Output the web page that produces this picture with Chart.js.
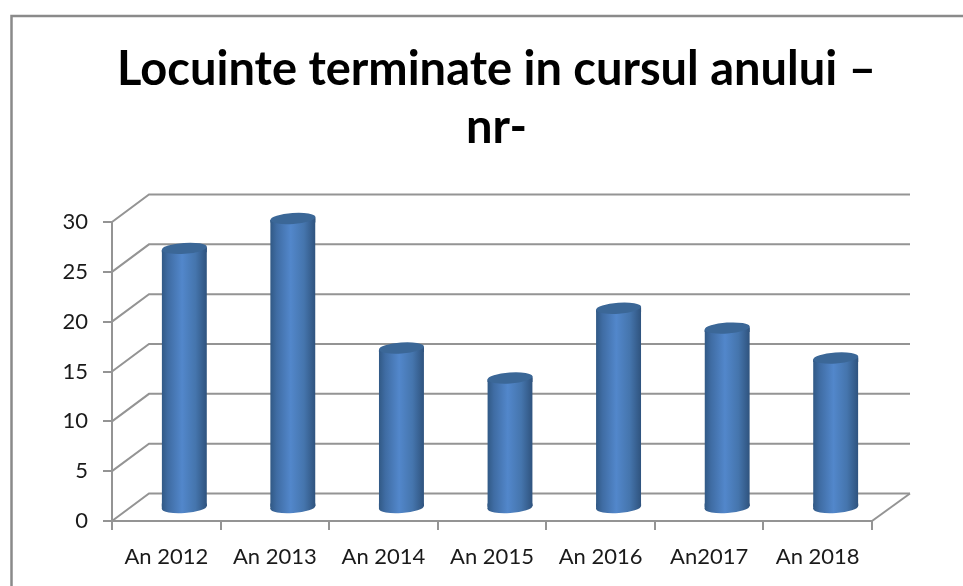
<!DOCTYPE html>
<html>
<head>
<meta charset="utf-8">
<style>
	html, body { margin: 0; background: #fff; }
	canvas { display: block; }
</style>
</head>
<body>
<canvas id="chart" width="963" height="586"></canvas>
<script src="https://cdn.jsdelivr.net/npm/chart.js@4/dist/chart.umd.min.js"></script>
<script>
// ===================== Data =====================
const categories = ['An 2012', 'An 2013', 'An 2014', 'An 2015', 'An 2016', 'An2017', 'An 2018'];
const values = [26, 29, 16, 13, 20, 18, 15];
const titleLines = ['Locuinte terminate in cursul anului –', 'nr-'];

// ===================== Fake 3D look =====================
const gridColor = '#949494';
const wallX = 37; // back wall offset
const wallY = -27.5;
const barX = 18; // cylinders stand in the middle of the floor
const barY = -13.5;
const barR = 22.5;
const capR = 5.5;
const tilt = -0.07;
const rise = 1.6;

function barGradient(ctx, cx) {
	const g = ctx.createLinearGradient(cx - barR, 0, cx + barR, 0);
	g.addColorStop(0, '#315985');
	g.addColorStop(0.14, '#3f6ca3');
	g.addColorStop(0.45, '#5287cb');
	g.addColorStop(0.75, '#4575ad');
	g.addColorStop(1, '#2f537e');
	return g;
}

const frame = {
	id: 'frame',
	beforeDraw(chart) {
		const { ctx } = chart;
		ctx.save();
		ctx.strokeStyle = '#8a8a8a';
		ctx.lineWidth = 2.5;
		ctx.beginPath();
		ctx.moveTo(11.5, 586);
		ctx.lineTo(11.5, 16);
		ctx.lineTo(963, 16);
		ctx.stroke();
		ctx.restore();
	},
	afterLayout(chart) {
		// title sits a bit right of the canvas centre
		chart.titleBlock.left = 30;
		chart.titleBlock.right = 963;
	},
};

const walls = {
	id: 'walls',
	beforeDatasetsDraw(chart) {
		const { ctx, scales: { y }, chartArea: area } = chart;
		ctx.save();
		ctx.strokeStyle = gridColor;
		ctx.lineWidth = 2;
		y.ticks.forEach((t) => {
			const py = y.getPixelForValue(t.value);
			ctx.beginPath();
			ctx.moveTo(area.left, py);
			ctx.lineTo(area.left + wallX, py + wallY);
			ctx.lineTo(area.right + wallX + 1, py + wallY);
			ctx.stroke();
		});
		ctx.beginPath();
		ctx.moveTo(area.right, y.getPixelForValue(0));
		ctx.lineTo(area.right + wallX + 1, y.getPixelForValue(0) + wallY);
		ctx.stroke();
		ctx.restore();

		// move the library's bars back onto the floor, slanted ends clipped
		const meta = chart.getDatasetMeta(0);
		const base = y.getPixelForValue(0);
		ctx.save();
		ctx.translate(barX, barY);
		ctx.beginPath();
		meta.data.forEach((bar) => {
			ctx.moveTo(bar.x - barR, bar.y + rise);
			ctx.lineTo(bar.x + barR, bar.y - rise);
			ctx.lineTo(bar.x + barR, base - rise);
			ctx.lineTo(bar.x - barR, base + rise);
			ctx.closePath();
		});
		ctx.clip();
	},
	afterDatasetsDraw(chart) {
		const { ctx, scales: { y } } = chart;
		ctx.restore();
		const base = y.getPixelForValue(0) + barY;
		chart.getDatasetMeta(0).data.forEach((bar) => {
			const cx = bar.x + barX;
			const top = bar.y + barY;
			const g = barGradient(ctx, cx);
			ctx.save();
			ctx.fillStyle = g;
			// bottom end
			ctx.beginPath();
			ctx.ellipse(cx, base, barR, capR, tilt, 0, Math.PI * 2);
			ctx.fill();
			ctx.beginPath();
			ctx.moveTo(cx - barR, base + rise);
			ctx.lineTo(cx + barR, base - rise);
			ctx.lineTo(cx + barR, base - 4);
			ctx.lineTo(cx - barR, base - 4);
			ctx.closePath();
			ctx.fill();
			// top end
			ctx.beginPath();
			ctx.moveTo(cx - barR, top + rise);
			ctx.lineTo(cx + barR, top - rise);
			ctx.lineTo(cx + barR, top + 4);
			ctx.lineTo(cx - barR, top + 4);
			ctx.closePath();
			ctx.fill();
			ctx.fillStyle = '#3b6797';
			ctx.beginPath();
			ctx.ellipse(cx, top, barR, capR, tilt, 0, Math.PI * 2);
			ctx.fill();
			ctx.restore();
		});
	},
};

// ===================== Chart =====================
const chart = new Chart(document.getElementById('chart'), {
	type: 'bar',
	plugins: [frame, walls],
	data: {
		labels: categories,
		datasets: [
			{
				data: values,
				barThickness: 45,
				borderWidth: 0,
				backgroundColor: (c) => {
					if (!Number.isFinite(c.dataIndex)) return '#4f81bd';
					const px = c.chart.scales.x.getPixelForValue(c.dataIndex);
					return Number.isFinite(px) ? barGradient(c.chart.ctx, px) : '#4f81bd';
				},
			},
		],
	},
	options: {
		responsive: false,
		animation: false,
		layout: { padding: { left: 0, right: 91, top: 0, bottom: 0 } },
		plugins: {
			legend: { display: false },
			tooltip: { enabled: false },
			title: {
				display: true,
				text: titleLines,
				color: '#000',
				font: { family: 'Lato', size: 47, weight: 'bold', lineHeight: 58 / 47 },
				padding: { top: 41, bottom: 65 },
			},
		},
		scales: {
			x: {
				afterFit(scale) {
					scale.height = 65;
				},
				border: { color: gridColor, width: 2 },
				grid: { drawOnChartArea: false, color: gridColor, lineWidth: 2, tickLength: 9 },
				ticks: {
					color: '#1a1a1a',
					font: { family: 'Lato', size: 22 },
					padding: 14,
					maxRotation: 0,
					autoSkip: false,
				},
			},
			y: {
				min: 0,
				max: 30,
				afterFit(scale) {
					scale.width = 112;
				},
				border: { color: gridColor, width: 2 },
				grid: { drawOnChartArea: false, color: gridColor, lineWidth: 2, tickLength: 9 },
				ticks: {
					stepSize: 5,
					color: '#1a1a1a',
					font: { family: 'Lato', size: 22 },
					padding: 15,
				},
			},
		},
	},
});
</script>
</body>
</html>
